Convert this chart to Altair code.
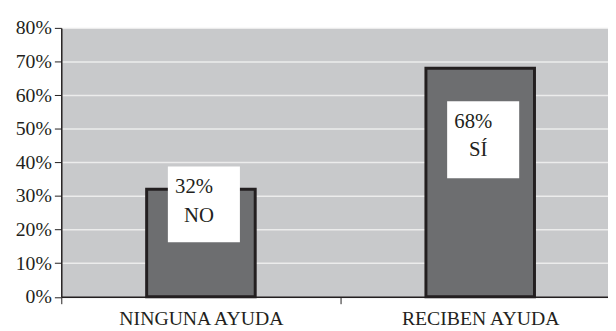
import altair as alt
import pandas as pd

categories = ["NINGUNA AYUDA", "RECIBEN AYUDA"]
values = [0.32, 0.68]
pct_labels = ["32%", "68%"]
short_labels = ["NO", "SÍ"]
# annotation box extent (in axis units)
box_top = [0.388, 0.582]
box_bottom = [0.162, 0.353]
y_ticks = [0, 0.1, 0.2, 0.3, 0.4, 0.5, 0.6, 0.7, 0.8]

df = pd.DataFrame({
    "cat": categories,
    "value": values,
    "pct": pct_labels,
    "short": short_labels,
    "top": box_top,
    "bottom": box_bottom,
})

FONT = "Liberation Serif"
INK = "#231f20"

xscale = alt.Scale(range=[0, 566], paddingInner=0, paddingOuter=0)
yscale = alt.Scale(domain=[0, 0.8], nice=False)

x_ax = alt.Axis(title=None, labelAngle=0, tickBand="extent", grid=False, labelPadding=5)
y_ax = alt.Axis(title=None, values=y_ticks, format=".0%", grid=True, labelPadding=3)

x_enc = alt.X("cat:N", sort=categories, scale=xscale, axis=x_ax)

base = alt.Chart(df)

bars = base.mark_bar(width=110, fill="#6d6e70", stroke=INK, strokeWidth=3).encode(
    x=x_enc,
    y=alt.Y("value:Q", scale=yscale, axis=y_ax),
)

boxes = base.mark_bar(width=73, xOffset=3, fill="white").encode(
    x=x_enc,
    y=alt.Y("top:Q", scale=yscale, axis=y_ax),
    y2="bottom:Q",
)

txt_pct = base.mark_text(dx=-7, dy=21).encode(
    x=x_enc, y=alt.Y("top:Q", scale=yscale, axis=y_ax), text="pct:N"
)
txt_short = base.mark_text(dx=-2, dy=50).encode(
    x=x_enc, y=alt.Y("top:Q", scale=yscale, axis=y_ax), text="short:N"
)

chart = (
    alt.layer(bars, boxes, txt_pct, txt_short)
    .properties(
        width=554,
        height=272.5,
        autosize=alt.AutoSizeParams(type="none"),
        padding={"left": 54, "top": 18, "right": 0, "bottom": 32},
        background="white",
    )
    .configure_view(fill="#c8c9cb", stroke="transparent")
    .configure_axis(
        labelFont=FONT, labelFontSize=20, labelColor=INK, labelOverlap=False,
        domainColor=INK, domainWidth=1.5, tickColor=INK, tickWidth=1, tickSize=7,
        gridColor="#ececec", gridWidth=1.5,
    )
    .configure_text(font=FONT, fontSize=21, color=INK, baseline="middle")
)

chart.save("out.html", embed_options={"renderer": "svg", "actions": False})
